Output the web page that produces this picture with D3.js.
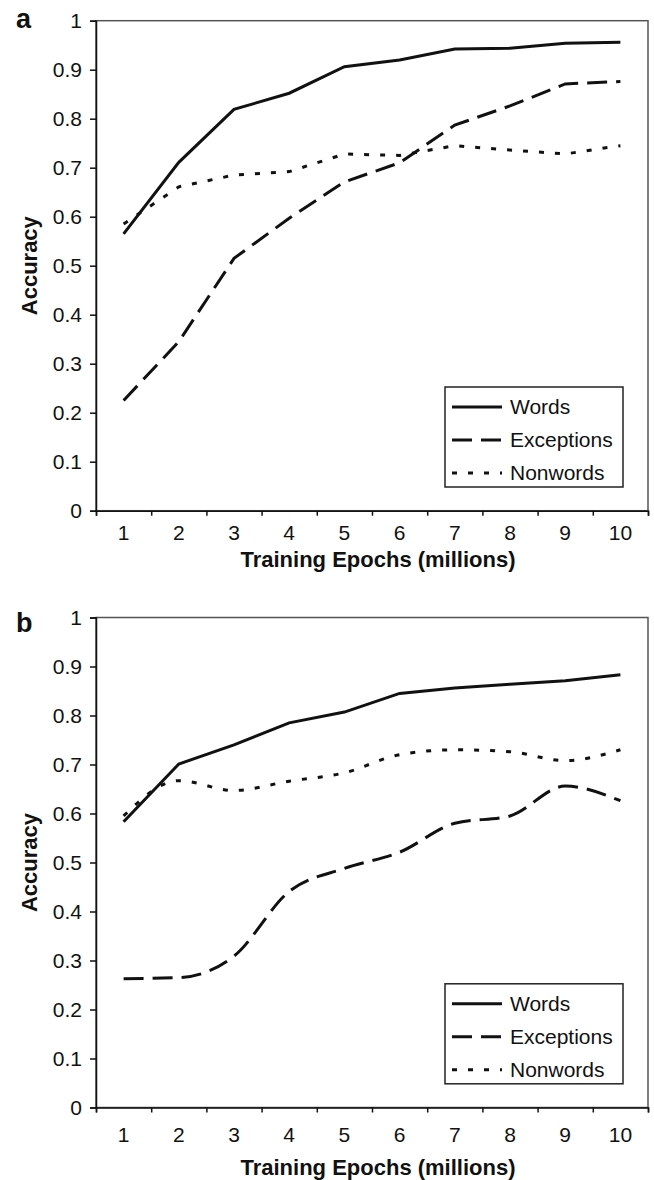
<!DOCTYPE html>
<html lang="en">
<head>
<meta charset="UTF-8">
<title>Accuracy over training epochs</title>
<script src="https://d3js.org/d3.v7.min.js"></script>
<style>
  body { margin: 0; background: #fff; font-family: "Liberation Sans", Arial, sans-serif; }
  svg text { fill: #111; }
</style>
</head>
<body>
<svg id="chart" width="654" height="1180"></svg>
<script>
    // category axis and y ticks
    const epochs = [1, 2, 3, 4, 5, 6, 7, 8, 9, 10];
    const yTickValues = [0, 0.1, 0.2, 0.3, 0.4, 0.5, 0.6, 0.7, 0.8, 0.9, 1];
    const seriesNames = ["Words", "Exceptions", "Nonwords"];

    // panel a
    const wordsA      = [0.565, 0.711, 0.819, 0.852, 0.906, 0.920, 0.942, 0.944, 0.954, 0.956];
    const exceptionsA = [0.225, 0.345, 0.515, 0.597, 0.671, 0.710, 0.787, 0.826, 0.871, 0.876];
    const nonwordsA   = [0.585, 0.661, 0.685, 0.692, 0.728, 0.725, 0.745, 0.736, 0.728, 0.745];

    // panel b
    const wordsB      = [0.583, 0.701, 0.740, 0.785, 0.807, 0.845, 0.856, 0.864, 0.871, 0.883];
    const exceptionsB = [0.263, 0.265, 0.309, 0.441, 0.488, 0.521, 0.580, 0.595, 0.656, 0.626];
    const nonwordsB   = [0.595, 0.667, 0.647, 0.666, 0.683, 0.720, 0.730, 0.726, 0.708, 0.730];

    const dashes = {Words: null, Exceptions: "20,9", Nonwords: "5,11"};

    const panels = [
        {label: "a", top: 20.7,  labelY: 28,  xPad: 14.4, titleGap: 56,
         series: [wordsA, exceptionsA, nonwordsA], smooth: []},
        {label: "b", top: 617.5, labelY: 632, xPad: 20,   titleGap: 67,
         series: [wordsB, exceptionsB, nonwordsB], smooth: ["Exceptions", "Nonwords"]}
    ];

    const left = 96, W = 552, H = 490;
    const fontFamily = '"Liberation Sans", Arial, Helvetica, sans-serif';

    const x = d3.scaleBand().domain(epochs).range([0, W]);
    const xEdge = d3.scaleLinear().domain([0, epochs.length]).range([0, W]);
    const y = d3.scaleLinear().domain([0, 1]).range([H, 0]);

    const svg = d3.select("#chart");

    function styleAxis(sel) {
        sel.attr("font-size", 21).attr("font-family", fontFamily).attr("color", "#111");
        sel.selectAll("path, line").attr("stroke-width", 1.5);
    }

    panels.forEach(p => {
        const g = svg.append("g").attr("transform", `translate(${left},${p.top})`);

        // plot frame
        g.append("rect")
            .attr("width", W).attr("height", H)
            .attr("fill", "none")
            .attr("stroke", "#555")
            .attr("stroke-width", 1.5);

        g.append("g")
            .call(d3.axisLeft(y).tickValues(yTickValues)
                .tickFormat(d3.format(".1~f")).tickSize(6).tickPadding(8))
            .call(styleAxis);

        // ticks between categories
        g.append("g")
            .attr("transform", `translate(0,${H})`)
            .call(d3.axisBottom(xEdge).tickValues(d3.range(0, epochs.length + 1))
                .tickFormat("").tickSize(5))
            .call(styleAxis);

        // category labels
        g.append("g")
            .attr("transform", `translate(0,${H})`)
            .call(d3.axisBottom(x).tickSize(0).tickPadding(p.xPad))
            .call(styleAxis)
            .call(a => a.select(".domain").remove());

        // axis titles
        g.append("text")
            .attr("x", W / 2 + 6)
            .attr("y", H + p.titleGap)
            .attr("text-anchor", "middle")
            .attr("font-family", fontFamily)
            .attr("font-size", 22)
            .attr("font-weight", "bold")
            .text("Training Epochs (millions)");

        g.append("text")
            .attr("transform", `translate(${37 - left},${H / 2}) rotate(-90)`)
            .attr("text-anchor", "middle")
            .attr("font-family", fontFamily)
            .attr("font-size", 22)
            .attr("font-weight", "bold")
            .text("Accuracy");

        svg.append("text")
            .attr("x", 16)
            .attr("y", p.labelY)
            .attr("font-family", fontFamily)
            .attr("font-size", 27)
            .attr("font-weight", "bold")
            .text(p.label);

        // lines
        seriesNames.forEach((name, i) => {
            const line = d3.line()
                .x((d, j) => x(epochs[j]) + x.bandwidth() / 2)
                .y(d => y(d))
                .curve(p.smooth.includes(name) ? d3.curveMonotoneX : d3.curveLinear);
            g.append("path")
                .datum(p.series[i])
                .attr("d", line)
                .attr("fill", "none")
                .attr("stroke", "#111")
                .attr("stroke-width", 3)
                .attr("stroke-dasharray", dashes[name]);
        });

        // legend
        const lg = g.append("g").attr("transform", `translate(${445 - left},${H - 123.7})`);
        lg.append("rect")
            .attr("width", 178).attr("height", 100)
            .attr("fill", "#fff")
            .attr("stroke", "#222")
            .attr("stroke-width", 1.5);
        seriesNames.forEach((name, i) => {
            const yy = 20 + i * 33;
            lg.append("line")
                .attr("x1", 7).attr("x2", 57)
                .attr("y1", yy).attr("y2", yy)
                .attr("stroke", "#111")
                .attr("stroke-width", 3)
                .attr("stroke-dasharray", dashes[name]);
            lg.append("text")
                .attr("x", 65).attr("y", yy)
                .attr("dy", "0.32em")
                .attr("font-family", fontFamily)
                .attr("font-size", 21)
                .text(name);
        });
    });
</script>
</body>
</html>
